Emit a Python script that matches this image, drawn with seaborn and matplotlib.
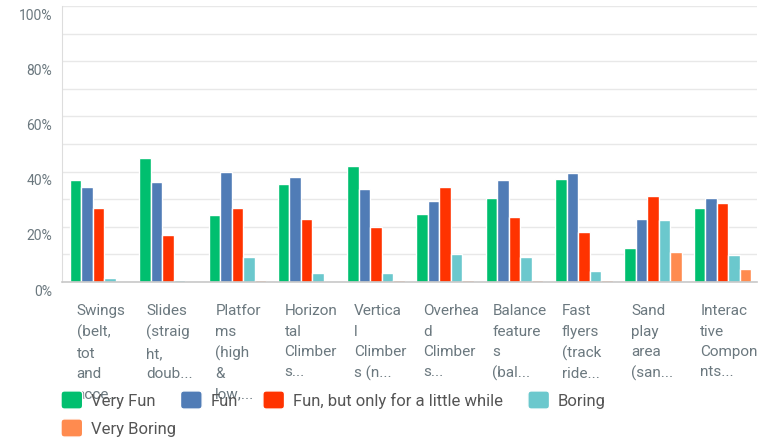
import numpy as np
import pandas as pd
import matplotlib
matplotlib.use('Agg')
import matplotlib.pyplot as plt
import matplotlib.transforms as mtransforms
from matplotlib.patches import FancyBboxPatch
from matplotlib.legend_handler import HandlerPatch
import seaborn as sns

# Chart data (percent of respondents)
categories = ['Swings', 'Slides', 'Platforms', 'Horizontal Climbers', 'Vertical Climbers',
              'Overhead Climbers', 'Balance features', 'Fast flyers', 'Sand play area',
              'Interactive Components']
tick_labels = ['Swings\n(belt,\ntot\nand\nacce...',
               'Slides\n(straig\nht,\ndoub...',
               'Platfor\nms\n(high\n&\nlow,...',
               'Horizon\ntal\nClimber\ns...',
               'Vertica\nl\nClimber\ns (n...',
               'Overhea\nd\nClimber\ns...',
               'Balance\nfeature\ns\n(bal...',
               'Fast\nflyers\n(track\nride...',
               'Sand\nplay\narea\n(san...',
               'Interac\ntive\nCompone\nnts...']
responses = ['Very Fun', 'Fun', 'Fun, but only for a little while', 'Boring', 'Very Boring']
very_fun = [37.0, 45.1, 24.2, 35.6, 42.0, 24.8, 30.5, 37.5, 12.3, 26.8]
fun = [34.4, 36.2, 40.0, 38.1, 33.7, 29.3, 36.9, 39.4, 22.9, 30.5]
fun_little = [26.8, 17.2, 26.8, 22.9, 19.8, 34.3, 23.5, 18.0, 31.1, 28.6]
boring = [1.4, 0.8, 9.0, 3.3, 3.3, 10.3, 9.0, 4.0, 22.3, 9.7]
very_boring = [0.0, 0.0, 0.8, 0.0, 0.8, 0.8, 0.8, 0.8, 10.9, 4.7]
colors = ['#00bf6f', '#507cb6', '#ff3300', '#6bc8cd', '#ff8b4f']

series = [very_fun, fun, fun_little, boring, very_boring]
rows = []
for resp, vals in zip(responses, series):
    for cat, v in zip(categories, vals):
        rows.append({'item': cat, 'response': resp, 'pct': v})
df = pd.DataFrame(rows)

sns.set_style('white')
plt.rcParams['font.family'] = ['Roboto', 'DejaVu Sans']
text_gray = '#6b787f'

fig = plt.figure(figsize=(7.58, 4.42), dpi=100)
ax = fig.add_axes([62 / 758, (442 - 282) / 442, (757 - 62) / 758, (282 - 6) / 442])

sns.barplot(data=df, x='item', y='pct', hue='response', order=categories,
            hue_order=responses, palette=colors, width=0.83, saturation=1,
            ax=ax, legend=True)
handles, labels = ax.get_legend_handles_labels()
ax.get_legend().remove()

ax.set_xlim(-0.53, 9.5)
ax.set_ylim(0, 100)
ax.set_xlabel('')
ax.set_ylabel('')

ax.set_yticks(np.arange(0, 101, 10))
ax.set_yticklabels([f'{v}%' if v % 20 == 0 else '' for v in range(0, 101, 10)],
                   fontsize=10, color=text_gray)
ax.grid(axis='y', color='#e8e8e8', linewidth=1)
ax.set_axisbelow(True)
ax.tick_params(axis='y', length=0, pad=7)
ydown = mtransforms.ScaledTranslation(0, -0.08, fig.dpi_scale_trans)
for lab in ax.get_yticklabels():
    lab.set_transform(lab.get_transform() + ydown)

ax.set_xticks(range(len(categories)))
ax.set_xticklabels(tick_labels, ha='left', va='top', fontsize=11, color=text_gray,
                   linespacing=1.58)
ax.tick_params(axis='x', length=0, pad=16)
xleft = mtransforms.ScaledTranslation(-0.22, 0, fig.dpi_scale_trans)
for lab in ax.get_xticklabels():
    lab.set_transform(lab.get_transform() + xleft)

for side in ['top', 'right']:
    ax.spines[side].set_visible(False)
ax.spines['left'].set_color('#dddddd')
ax.spines['bottom'].set_color('#c8c8c8')
ax.spines['bottom'].set_linewidth(1.2)


def rounded_box(legend, orig_handle, xdescent, ydescent, width, height, fontsize):
    return FancyBboxPatch((-xdescent, -ydescent), width, height,
                          boxstyle='round,pad=0,rounding_size=2.5')


hmap = {type(handles[0]): HandlerPatch(patch_func=rounded_box)}
leg_kw = dict(frameon=False, fontsize=12, handlelength=1.3, handleheight=1.3,
              handletextpad=0.5, borderpad=0, borderaxespad=0, labelcolor='#555555',
              handler_map=hmap)
fig.legend(handles[:4], labels[:4], loc='center left', bbox_to_anchor=(61 / 758, 1 - 400 / 442),
           ncol=4, columnspacing=1.5, **leg_kw)
fig.legend(handles[4:], labels[4:], loc='center left', bbox_to_anchor=(61 / 758, 1 - 428 / 442),
           ncol=1, **leg_kw)

fig.savefig('out.png', dpi=100)
